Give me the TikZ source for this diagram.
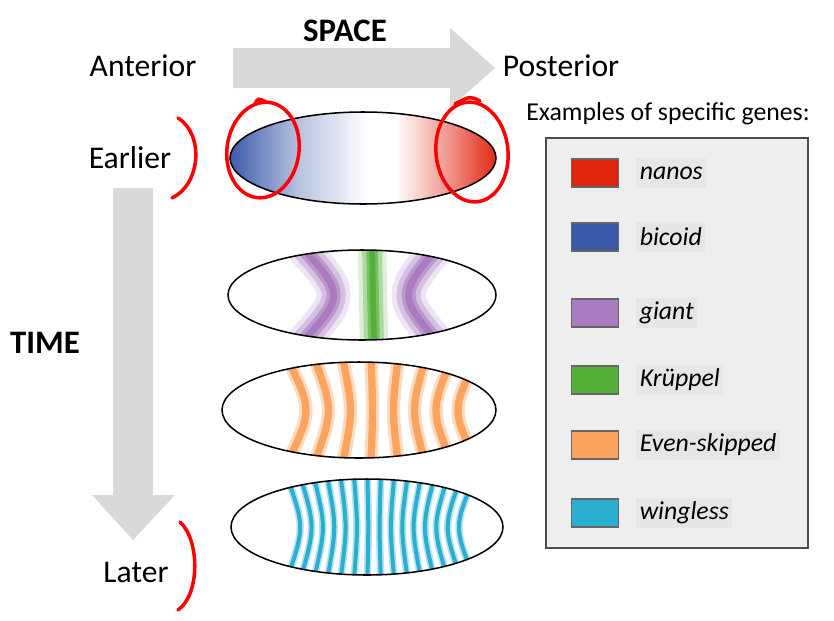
\documentclass[tikz,border=0pt]{standalone}
\usepackage{fontspec}
\setmainfont{Carlito}
\usepackage{xcolor}
\definecolor{arrowgray}{HTML}{D9D9D9}
\definecolor{bicoidblue}{HTML}{3A58A8}
\definecolor{nanosred}{HTML}{E0250F}
\definecolor{giantpurple}{HTML}{A97CC0}
\definecolor{kruppelgreen}{HTML}{55B03A}
\definecolor{eveorange}{HTML}{FAA460}
\definecolor{wglcyan}{HTML}{2BAFD0}
\definecolor{legendfill}{HTML}{EEEEEE}
\definecolor{labelfill}{HTML}{E6E6E6}
\tikzstyle{embryo} = [draw=black, line width=1.3pt]
\tikzstyle{swatch} = [draw=black!60, line width=1.2pt, minimum width=14mm, minimum height=8.5mm, inner sep=0pt]
\tikzstyle{genelabel} = [fill=labelfill, anchor=west, inner sep=3pt, minimum height=9mm, font=\fontsize{22}{26}\selectfont\itshape]
\tikzstyle{redmark} = [draw=red, line width=3pt, line cap=round]

\begin{document}
\begin{tikzpicture}[x=0.3mm, y=-0.3mm]
	\useasboundingbox (0,0) rectangle (834,620);

	% big arrows
	\fill[arrowgray] (233,48) -- (450,48) -- (450,28) -- (495,68) -- (450,108) -- (450,88) -- (233,88) -- cycle;
	\fill[arrowgray] (113,188) -- (153,188) -- (153,495) -- (175,495) -- (133,540) -- (92,495) -- (113,495) -- cycle;

	\node[font=\fontsize{28}{32}\selectfont\bfseries] (space) at (345,31) {SPACE};
	\node[font=\fontsize{27}{32}\selectfont] (ant) at (143,66) {Anterior};
	\node[font=\fontsize{27}{32}\selectfont] (post) at (561,66) {Posterior};
	\node[font=\fontsize{28}{32}\selectfont\bfseries] (time) at (45,343) {TIME};
	\node[font=\fontsize{27}{32}\selectfont] (early) at (130,158) {Earlier};
	\node[font=\fontsize{27}{32}\selectfont] (late) at (136,572) {Later};

	% embryo 1: bicoid / nanos
	\begin{scope}
		\clip (363,158) ellipse [x radius=133, y radius=46];
		\shade[left color=bicoidblue, right color=bicoidblue!35] (228,100) rectangle (300,215);
		\shade[left color=bicoidblue!35, right color=white] (300,100) rectangle (368,215);
		\fill[white] (367,100) rectangle (396,215);
		\shade[left color=white, right color=nanosred!45] (395,100) rectangle (445,215);
		\shade[left color=nanosred!45, right color=nanosred] (445,100) rectangle (498,215);
	\end{scope}
	\draw[embryo] (363,158) ellipse [x radius=133, y radius=46];

	% embryo 2: giant / Kruppel
	\begin{scope}
		\clip (362,295) ellipse [x radius=134, y radius=45];
		\foreach \w/\o in {34/0.2,24/0.35,14/0.6,7/1}{
			\draw[giantpurple, opacity=\o, line width=\w*0.3mm] (300,245) .. controls (345,295) .. (300,345);
			\draw[giantpurple, opacity=\o, line width=\w*0.3mm] (440,245) .. controls (398,295) .. (440,345);
			\draw[kruppelgreen, opacity=\o, line width=\w*0.25mm] (372,245) -- (374,345);
		}
	\end{scope}
	\draw[embryo] (362,295) ellipse [x radius=134, y radius=45];

	% embryo 3: even-skipped
	\begin{scope}
		\clip (359,410) ellipse [x radius=137, y radius=48];
		\foreach \x/\b in {300/12,324/9,348/5,372/1,395/-3,418/-7,441/-10,464/-12}{
			\draw[eveorange, opacity=0.4, line width=4mm] (\x-\b,360) .. controls (\x+\b,410) .. (\x-\b,462);
			\draw[eveorange, line width=2.2mm] (\x-\b,360) .. controls (\x+\b,410) .. (\x-\b,462);
		}
	\end{scope}
	\draw[embryo] (359,410) ellipse [x radius=137, y radius=48];

	% embryo 4: wingless
	\begin{scope}
		\clip (367,527) ellipse [x radius=136, y radius=48];
		\foreach \i in {0,...,14}{
			\pgfmathsetmacro{\x}{296+\i*12}
			\pgfmathsetmacro{\b}{(373-\x)*0.11}
			\draw[wglcyan, opacity=0.35, line width=2.2mm] (\x-\b,478) .. controls (\x+\b,527) .. (\x-\b,578);
			\draw[wglcyan, line width=1.2mm] (\x-\b,478) .. controls (\x+\b,527) .. (\x-\b,578);
		}
	\end{scope}
	\draw[embryo] (367,527) ellipse [x radius=136, y radius=48];

	% red hand marks
	\draw[redmark] (178,118) .. controls (205,135) and (200,185) .. (172,198);
	\draw[redmark] (180,522) .. controls (200,540) and (200,595) .. (178,610);
	\draw[redmark, rotate around={-8:(263,150)}] (263,150) ellipse [x radius=36, y radius=48];
	\draw[redmark] (255,104) .. controls (258,98) .. (266,102);
	\draw[redmark, rotate around={6:(472,152)}] (472,152) ellipse [x radius=36, y radius=50];
	\draw[redmark] (480,101) .. controls (470,96) .. (455,104);

	% legend
	\node[font=\fontsize{22}{26}\selectfont] (legtitle) at (668,114) {Examples of specific genes:};
	\draw[draw=black!70, fill=legendfill, line width=1.3pt] (546,138) rectangle (808,548);
	\foreach \y/\c/\g [count=\k] in {173/nanosred/nanos, 237/bicoidblue/bicoid, 313/giantpurple/giant,
			380/kruppelgreen/Krüppel, 445/eveorange/Even-skipped, 513/wglcyan/wingless}{
		\node[swatch, fill=\c] (sw\k) at (595,\y) {};
		\node[genelabel] (gl\k) at (636,\y) {\g};
	}
\end{tikzpicture}
\end{document}
